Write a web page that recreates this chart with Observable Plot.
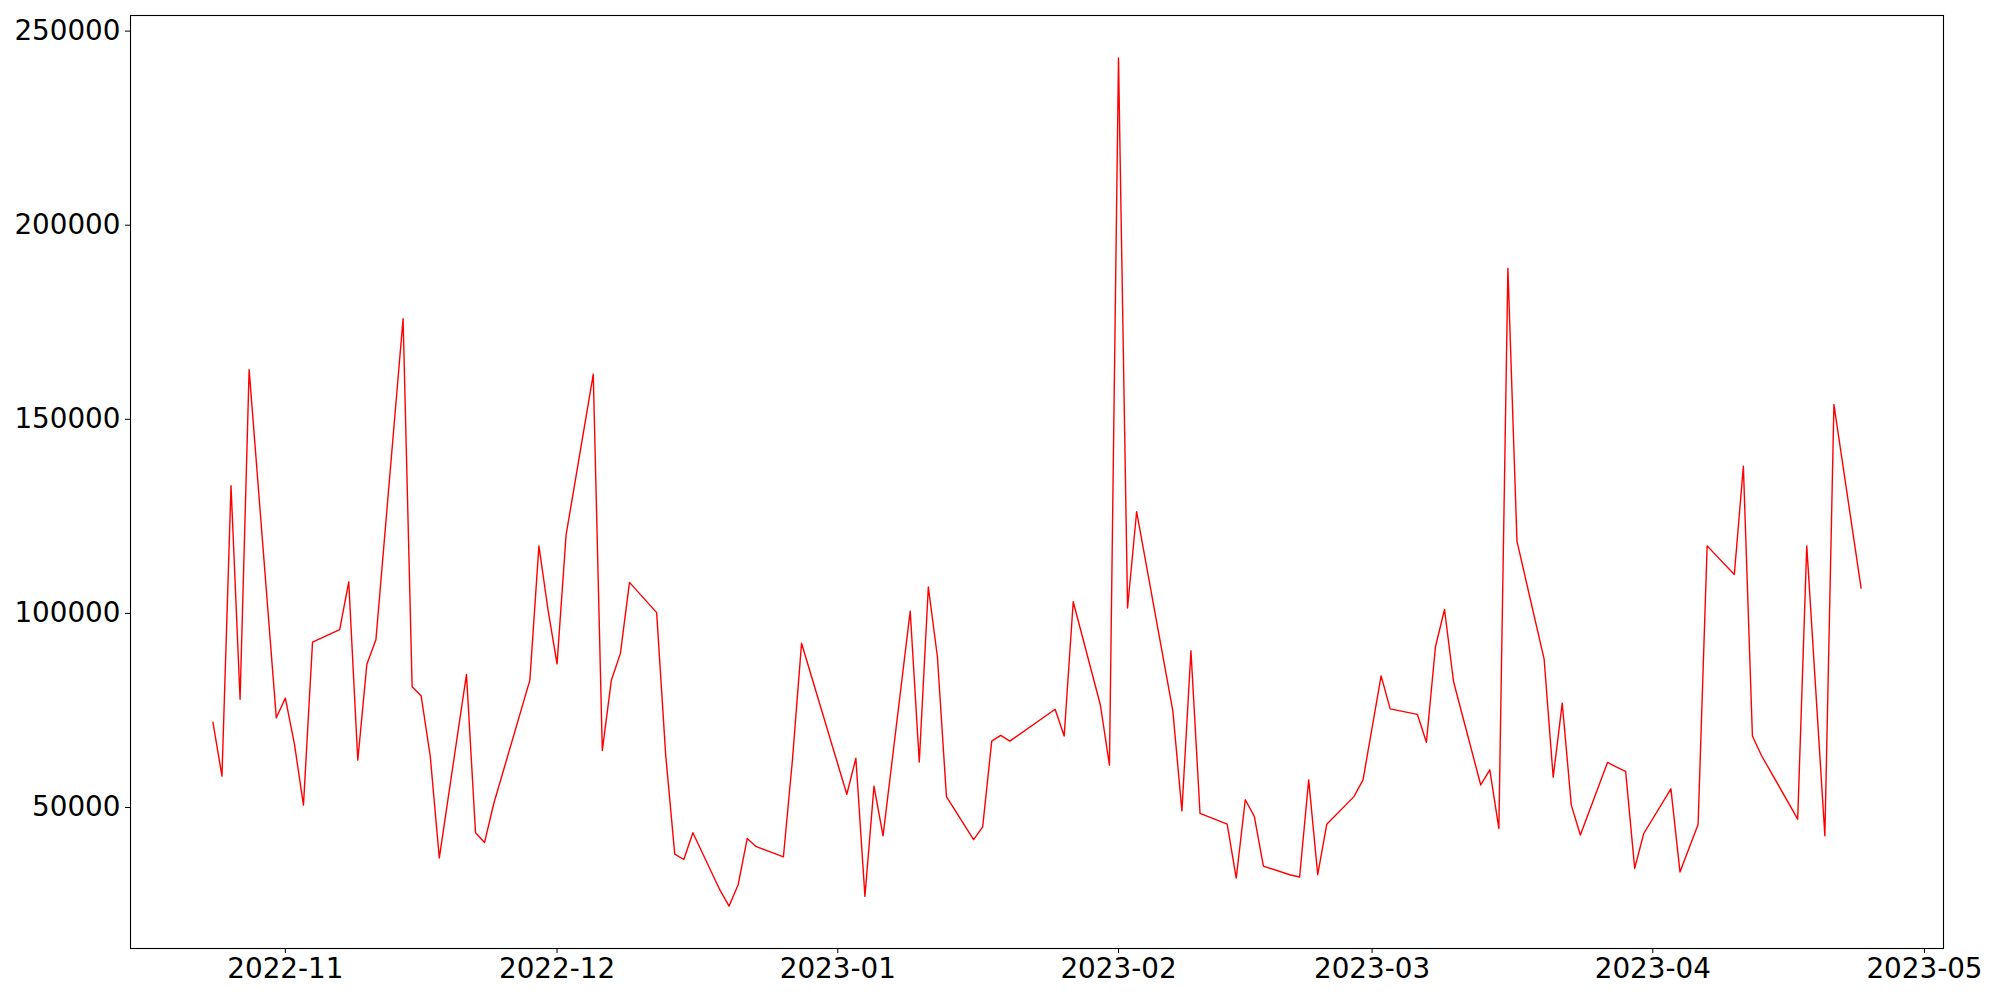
<!DOCTYPE html>
<html>
<head>
<meta charset="utf-8">
<script src="https://cdn.jsdelivr.net/npm/d3@7"></script>
<script src="https://cdn.jsdelivr.net/npm/@observablehq/plot@0.6"></script>
<style>
  html, body { margin: 0; padding: 0; background: white; }
  #chart svg { display: block; }
</style>
</head>
<body>
<div id="chart"></div>
<script>
const dates = [
  "2022-10-24","2022-10-25","2022-10-26","2022-10-27","2022-10-28","2022-10-31",
  "2022-11-01","2022-11-02","2022-11-03","2022-11-04","2022-11-07","2022-11-08","2022-11-09","2022-11-10","2022-11-11",
  "2022-11-14","2022-11-15","2022-11-16","2022-11-17","2022-11-18","2022-11-21","2022-11-22","2022-11-23","2022-11-24",
  "2022-11-28","2022-11-29","2022-11-30","2022-12-01","2022-12-02","2022-12-05","2022-12-06","2022-12-07","2022-12-08","2022-12-09",
  "2022-12-12","2022-12-13","2022-12-14","2022-12-15","2022-12-16","2022-12-19","2022-12-20","2022-12-21","2022-12-22","2022-12-23",
  "2022-12-26","2022-12-27","2022-12-28","2023-01-02","2023-01-03","2023-01-04","2023-01-05","2023-01-06",
  "2023-01-09","2023-01-10","2023-01-11","2023-01-12","2023-01-13","2023-01-16","2023-01-17","2023-01-18","2023-01-19","2023-01-20",
  "2023-01-25","2023-01-26","2023-01-27","2023-01-30","2023-01-31","2023-02-01","2023-02-02","2023-02-03",
  "2023-02-07","2023-02-08","2023-02-09","2023-02-10","2023-02-13","2023-02-14","2023-02-15","2023-02-16","2023-02-17",
  "2023-02-20","2023-02-21","2023-02-22","2023-02-23","2023-02-24","2023-02-27","2023-02-28","2023-03-02","2023-03-03",
  "2023-03-06","2023-03-07","2023-03-08","2023-03-09","2023-03-10","2023-03-13","2023-03-14","2023-03-15","2023-03-16","2023-03-17",
  "2023-03-20","2023-03-21","2023-03-22","2023-03-23","2023-03-24","2023-03-27","2023-03-28","2023-03-29","2023-03-30","2023-03-31",
  "2023-04-03","2023-04-04","2023-04-06","2023-04-07","2023-04-10","2023-04-11","2023-04-12","2023-04-13",
  "2023-04-17","2023-04-18","2023-04-20","2023-04-21","2023-04-24"
];
const values = [
  72000, 58100, 132900, 77900, 162800, 73100,
  78200, 66400, 50600, 92600, 95800, 108100, 62200, 86900, 93200,
  175900, 81100, 78700, 63200, 37000, 84300, 43500, 41000, 50900,
  82800, 117400, 101000, 87000, 120200, 161600, 64700, 82800, 89700, 108000,
  100200, 63500, 38000, 36600, 43500, 28700, 24600, 30100, 42000, 39900,
  37300, 62400, 92300, 53400, 62700, 27100, 55500, 42700,
  100600, 61700, 106800, 88900, 52800, 41700, 45000, 67100, 68600, 67100,
  75300, 68400, 103000, 76400, 60900, 243100, 101400, 126200,
  74900, 49100, 90400, 48500, 45700, 31800, 52000, 47700, 34900,
  32600, 32100, 57100, 32700, 45700, 52800, 57100, 83900, 75400,
  74000, 66800, 91400, 101000, 82400, 55800, 59700, 44600, 188900, 118600,
  88200, 57800, 76900, 50600, 42900, 61600, 60400, 59300, 34300, 43300,
  54800, 33400, 45600, 117400, 110000, 137900, 68400, 63400,
  47000, 117400, 42700, 153800, 106500
];
const xTickLabels = ["2022-11","2022-12","2023-01","2023-02","2023-03","2023-04","2023-05"];
const yTicks = [50000, 100000, 150000, 200000, 250000];

const data = dates.map((d, i) => ({date: new Date(d + "T00:00:00Z"), value: values[i]}));

// matplotlib-style 5% margins
const [t0, t1] = d3.extent(data, d => +d.date);
const tpad = (t1 - t0) * 0.05;
const [v0, v1] = d3.extent(values);
const vpad = (v1 - v0) * 0.05;

const xTicks = xTickLabels.map(s => new Date(s + "-01T00:00:00Z"));

const chart = Plot.plot({
  width: 2000,
  height: 1000,
  marginLeft: 130,
  marginRight: 57,
  marginTop: 15,
  marginBottom: 52,
  style: {fontFamily: "DejaVu Sans", fontSize: "27.8px", background: "white", color: "black"},
  x: {type: "utc", domain: [new Date(t0 - tpad), new Date(t1 + tpad)]},
  y: {domain: [v0 - vpad, v1 + vpad]},
  marks: [
    Plot.axisX(xTicks, {tickSize: 5, tickPadding: 5, tickFormat: d3.utcFormat("%Y-%m"), label: null, fill: "black", stroke: "black"}),
    Plot.axisY(yTicks, {tickSize: 5, tickPadding: 5, tickFormat: d => String(d), label: null, fill: "black", stroke: "black"}),
    Plot.lineY(data, {x: "date", y: "value", stroke: "red", strokeWidth: 1.4}),
    Plot.frame({stroke: "black", strokeWidth: 1.1})
  ]
});
document.getElementById("chart").appendChild(chart);
</script>
</body>
</html>
